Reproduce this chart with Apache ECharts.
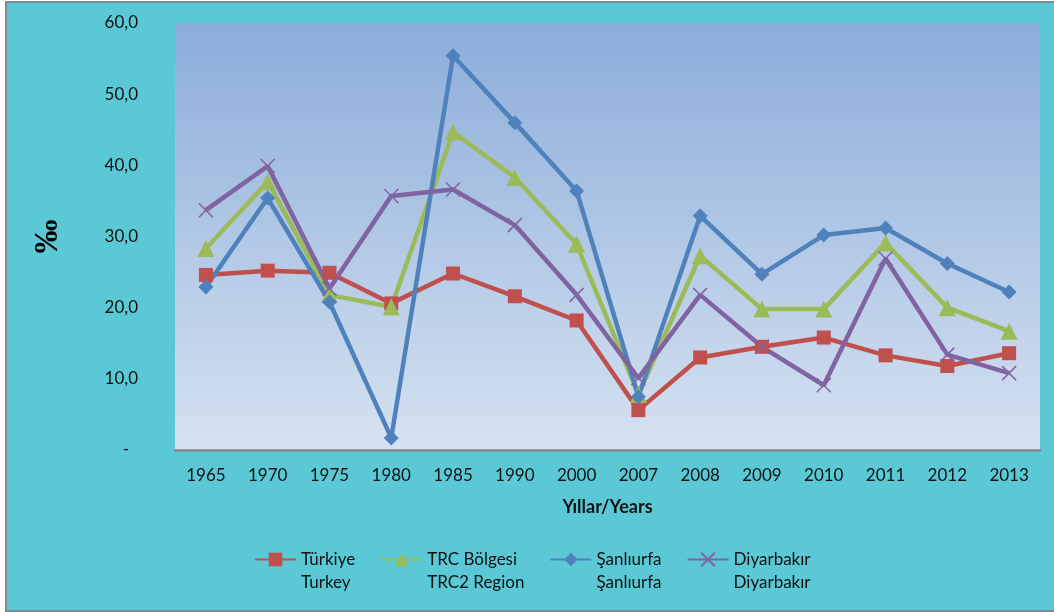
<!DOCTYPE html>
<html>
<head>
<meta charset="utf-8">
<title>Doğum hızı</title>
<script src="https://cdn.jsdelivr.net/npm/echarts@6/dist/echarts.min.js"></script>
<style>
html, body {
  margin: 0;
  padding: 0;
  background: #ffffff;
}
#frame {
  position: absolute;
  left: 5px;
  top: 1px;
  width: 1060px;
  height: 607px;
  background: #5bc8d6;
  border-left: 2px solid #808a8f;
  border-top: 2px solid #808a8f;
  border-bottom: 2px solid #808a8f;
}
#chart {
  position: absolute;
  left: 0;
  top: 0;
  width: 1054px;
  height: 612px;
}
</style>
</head>
<body>
<div id="frame"></div>
<div id="chart"></div>
<script>
// yıllar
const years = ['1965', '1970', '1975', '1980', '1985', '1990', '2000', '2007', '2008', '2009', '2010', '2011', '2012', '2013'];

// ‰ değerleri
const turkiye = [24.6, 25.2, 24.9, 20.6, 24.8, 21.6, 18.2, 5.6, 13.0, 14.5, 15.8, 13.3, 11.8, 13.6];
const trc = [28.3, 37.7, 21.8, 20.1, 44.7, 38.3, 28.9, 7.8, 27.3, 19.8, 19.8, 29.1, 20.0, 16.7];
const sanliurfa = [22.9, 35.4, 20.8, 1.7, 55.4, 46.0, 36.4, 7.5, 32.9, 24.7, 30.2, 31.2, 26.2, 22.2];
const diyarbakir = [33.7, 39.9, 22.7, 35.7, 36.6, 31.6, 21.8, 10.1, 21.8, 14.5, 9.1, 26.9, 13.4, 10.8];

// lejant: üst satır / alt satır
const names = ['Türkiye', 'TRC Bölgesi', 'Şanlıurfa', 'Diyarbakır'];
const subNames = ['Turkey', 'TRC2 Region', 'Şanlıurfa', 'Diyarbakır'];

const font = 'Lato, "Open Sans", sans-serif';
const crossPath = 'path://M0,0L10,10M10,0L0,10';

function makeSeries (name, data, color, symbol, size, extra) {
  return Object.assign({
    name: name,
    type: 'line',
    data: data,
    color: color,
    symbol: symbol,
    symbolSize: size,
    lineStyle: { width: 4.5, color: color },
    itemStyle: { color: color },
    emphasis: { disabled: true }
  }, extra || {});
}

let chart = echarts.init(document.getElementById('chart'));
let option = {
  backgroundColor: 'transparent',
  animation: false,
  grid: {
    left: 175,
    right: 14,
    top: 23,
    bottom: 162,
    show: true,
    borderWidth: 0,
    backgroundColor: new echarts.graphic.LinearGradient(0, 0, 0, 1, [
      { offset: 0, color: '#8badda' },
      { offset: 1, color: '#d6e2f1' }
    ])
  },
  legend: {
    data: names,
    left: 254,
    top: 528,
    padding: 0,
    itemWidth: 41,
    itemHeight: 17,
    itemGap: 25,
    formatter: function (name) {
      // boş ilk satır: ikon üst satırla aynı hizada kalsın
      return '{e| }\n{a|' + name + '}\n{a|' + subNames[names.indexOf(name)] + '}';
    },
    textStyle: {
      fontFamily: font,
      fontSize: 17,
      color: '#111',
      rich: {
        e: { fontSize: 17, lineHeight: 23 },
        a: { fontFamily: font, fontSize: 17, color: '#111', lineHeight: 23 }
      }
    }
  },
  xAxis: {
    type: 'category',
    data: years,
    boundaryGap: true,
    name: 'Yıllar/Years',
    nameLocation: 'middle',
    nameGap: 48,
    nameTextStyle: {
      fontFamily: font,
      fontSize: 18,
      fontWeight: 'bold',
      color: '#111'
    },
    axisLine: { lineStyle: { color: '#80868a', width: 2.5 } },
    axisTick: { show: false },
    axisLabel: {
      margin: 17,
      fontFamily: font,
      fontSize: 17,
      color: '#111'
    },
    splitLine: { show: false }
  },
  yAxis: {
    type: 'value',
    min: 0,
    max: 60,
    interval: 10,
    name: '‰',
    nameLocation: 'middle',
    nameRotate: 90,
    nameGap: 110,
    nameTextStyle: {
      fontFamily: '"Liberation Serif", "DejaVu Serif", serif',
      fontSize: 34,
      fontWeight: 'bold',
      color: '#000'
    },
    axisLine: { show: false },
    axisTick: { show: false },
    splitLine: { show: false },
    axisLabel: {
      margin: 37,
      fontFamily: font,
      fontSize: 17,
      color: '#111',
      formatter: function (value) {
        if (value === 0) {
          return '{d|-}';
        }
        return value.toFixed(1).replace('.', ',');
      },
      rich: {
        d: {
          fontFamily: font,
          fontSize: 17,
          color: '#111',
          padding: [0, 9, 0, 0]
        }
      }
    }
  },
  series: [
    makeSeries(names[0], turkiye, '#c0504d', 'rect', 14),
    makeSeries(names[1], trc, '#9bbb59', 'triangle', 17),
    makeSeries(names[2], sanliurfa, '#4f81bd', 'diamond', 15),
    makeSeries(names[3], diyarbakir, '#8064a2', crossPath, 14, {
      itemStyle: { color: '#8064a2', borderColor: '#8064a2', borderWidth: 1.5 }
    })
  ]
};
chart.setOption(option);
</script>
</body>
</html>
